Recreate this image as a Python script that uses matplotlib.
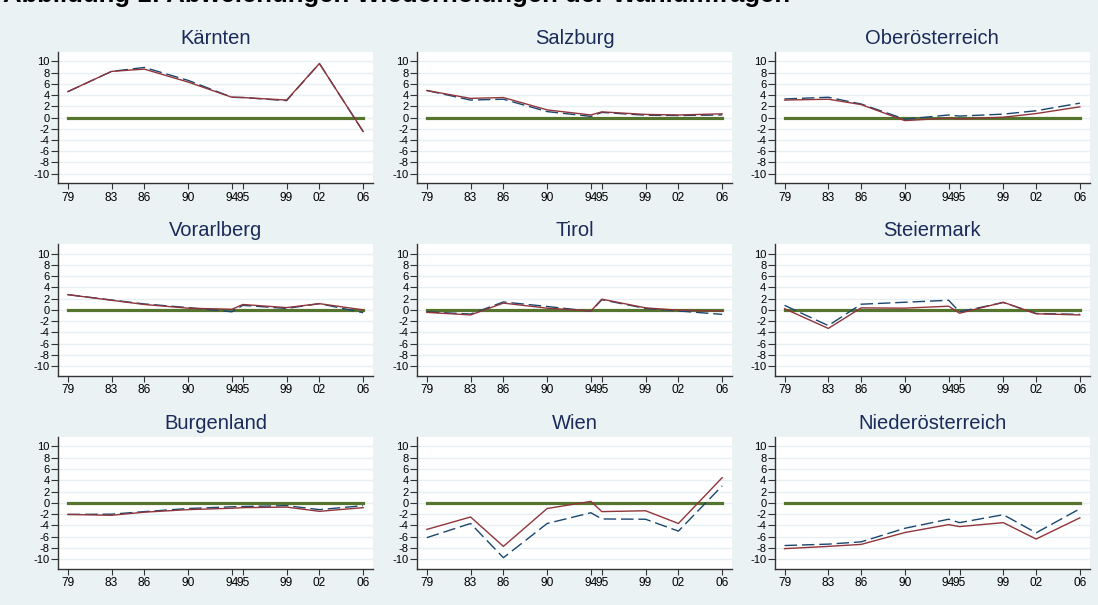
import matplotlib
matplotlib.use("Agg")
import matplotlib.pyplot as plt

years = [1979, 1983, 1986, 1990, 1994, 1995, 1999, 2002, 2006]
year_labels = ["79", "83", "86", "90", "94", "95", "99", "02", "06"]
y_ticks = [10, 8, 6, 4, 2, 0, -2, -4, -6, -8, -10]

regions = ["Kärnten", "Salzburg", "Oberösterreich",
           "Vorarlberg", "Tirol", "Steiermark",
           "Burgenland", "Wien", "Niederösterreich"]

# solid maroon series
red_kaernten = [4.6, 8.2, 8.6, 6.3, 3.6, 3.55, 3.1, 9.6, -2.5]
red_salzburg = [4.8, 3.4, 3.55, 1.35, 0.45, 1.0, 0.55, 0.45, 0.65]
red_ooe = [3.1, 3.25, 2.3, -0.55, -0.1, -0.25, 0.05, 0.7, 1.9]
red_vorarlberg = [2.7, 1.7, 0.95, 0.3, 0.1, 0.95, 0.4, 1.1, 0.0]
red_tirol = [-0.45, -0.9, 1.2, 0.3, -0.2, 1.9, 0.35, -0.05, -0.25]
red_steiermark = [0.2, -3.3, 0.35, 0.3, 0.65, -0.6, 1.35, -0.7, -0.9]
red_burgenland = [-2.05, -2.2, -1.65, -1.2, -0.95, -0.85, -0.75, -1.5, -0.85]
red_wien = [-4.7, -2.5, -7.7, -1.0, 0.25, -1.55, -1.4, -3.65, 4.45]
red_noe = [-8.1, -7.7, -7.35, -5.25, -3.85, -4.2, -3.5, -6.4, -2.65]

# dashed navy series
blue_kaernten = [4.6, 8.2, 8.9, 6.6, 3.6, 3.55, 3.0, 9.6, -2.5]
blue_salzburg = [4.8, 3.1, 3.25, 1.05, 0.2, 0.9, 0.4, 0.35, 0.45]
blue_ooe = [3.3, 3.6, 2.4, -0.3, 0.45, 0.25, 0.6, 1.2, 2.55]
blue_vorarlberg = [2.7, 1.75, 1.05, 0.4, -0.35, 0.8, 0.25, 1.1, -0.5]
blue_tirol = [-0.35, -0.75, 1.4, 0.6, -0.25, 1.8, 0.25, -0.2, -0.8]
blue_steiermark = [0.8, -2.8, 1.0, 1.35, 1.7, -0.35, 1.3, -0.65, -0.8]
blue_burgenland = [-2.05, -2.0, -1.55, -1.0, -0.7, -0.65, -0.5, -1.2, -0.5]
blue_wien = [-6.15, -3.65, -9.7, -3.65, -1.75, -2.85, -2.9, -5.0, 3.0]
blue_noe = [-7.55, -7.3, -6.9, -4.5, -2.9, -3.5, -2.1, -5.3, -1.05]

red_series = [red_kaernten, red_salzburg, red_ooe, red_vorarlberg, red_tirol,
              red_steiermark, red_burgenland, red_wien, red_noe]
blue_series = [blue_kaernten, blue_salzburg, blue_ooe, blue_vorarlberg, blue_tirol,
               blue_steiermark, blue_burgenland, blue_wien, blue_noe]

title_text = "Abbildung 1: Abweichungen Wiederholungen der Wahlumfragen"

BG = "#EAF2F3"
GRID = "#E6EFF1"
NAVY = "#1A476F"
MAROON = "#90353B"
GREEN = "#55752F"
TITLE_C = "#1A2B5A"

plt.rcParams['font.family'] = ['Liberation Sans', 'DejaVu Sans']

W, H = 1098, 605
fig = plt.figure(figsize=(W / 100, H / 100), dpi=100, facecolor=BG)

col_left = [58, 417, 774.7]
col_w = 315
row_top = [51.7, 244, 436.7]
row_h = [131.6, 131.7, 132.3]

fig.text(3 / W, 1 - 2.0 / H, title_text, fontsize=18.5, fontweight='bold',
         color='black', ha='left', va='baseline')

for i, name in enumerate(regions):
    r, c = divmod(i, 3)
    left = col_left[c] / W
    bottom = 1 - (row_top[r] + row_h[r]) / H
    ax = fig.add_axes([left, bottom, col_w / W, row_h[r] / H])
    ax.set_facecolor('white')
    ax.set_xlim(1978.1, 2006.9)
    ax.set_ylim(-11.7, 11.7)
    ax.set_yticks(y_ticks)
    ax.set_yticklabels([str(t) for t in y_ticks], fontsize=8)
    ax.set_xticks(years)
    ax.set_xticklabels(year_labels, fontsize=8.6)
    ax.grid(axis='y', color=GRID, linewidth=1.0)
    ax.set_axisbelow(True)
    for s in ['top', 'right']:
        ax.spines[s].set_visible(False)
    for s in ['left', 'bottom']:
        ax.spines[s].set_color('#333333')
        ax.spines[s].set_linewidth(1.0)
    ax.tick_params(axis='y', length=5, width=0.8, color='#333333', pad=1.0)
    ax.tick_params(axis='x', length=4, width=0.8, color='#333333', pad=2.0)

    ax.plot([years[0], years[-1]], [0, 0], color=GREEN, linewidth=2.3, zorder=2)
    ax.plot(years, blue_series[i], color=NAVY, linewidth=1.0,
            linestyle=(0, (9, 3.5)), zorder=3)
    ax.plot(years, red_series[i], color=MAROON, linewidth=1.0, zorder=4)
    ax.set_title(name, fontsize=14.5, color=TITLE_C, pad=5.5)

fig.savefig("out.png", dpi=100, facecolor=BG)
